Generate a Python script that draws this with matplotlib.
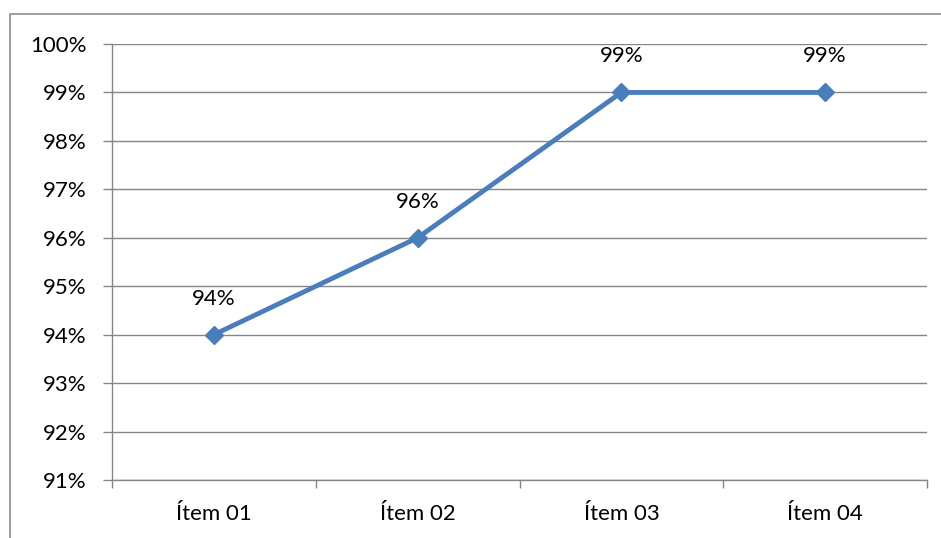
import matplotlib.pyplot as plt
from matplotlib.patches import Rectangle

plt.rcParams['font.family'] = ['Lato', 'DejaVu Sans']

items = ['Ítem 01', 'Ítem 02', 'Ítem 03', 'Ítem 04']
values = [94, 96, 99, 99]
labels = ['94%', '96%', '99%', '99%']

W, H = 941, 538
fig = plt.figure(figsize=(W / 100, H / 100), dpi=100)
ax = fig.add_axes([112 / W, 1 - 480 / H, (927 - 112) / W, (480 - 44) / H])

grey = '#868686'
line_col = '#4a7ebb'
fs = 16

ax.plot(range(len(items)), values, color=line_col, lw=3.5, marker='D', ms=9,
        mfc=line_col, mec=line_col, zorder=3, clip_on=False)
for i, (v, t) in enumerate(zip(values, labels)):
    ax.annotate(t, (i, v), xytext=(0, 26), textcoords='offset points',
                ha='center', va='center', fontsize=fs, color='black')

ax.set_xlim(-0.5, len(items) - 0.5)
ax.set_ylim(91, 100)
ax.set_yticks(range(91, 101))
ax.set_yticklabels([f'{v}%' for v in range(91, 101)])
ax.set_xticks(range(len(items)))
ax.set_xticklabels(items)
ax.set_xticks([-0.5, 0.5, 1.5, 2.5, 3.5], minor=True)
ax.tick_params(axis='x', which='major', length=0, pad=17, labelsize=fs)
ax.tick_params(axis='x', which='minor', length=6, color=grey, width=1)
ax.tick_params(axis='y', length=6.5, color=grey, width=1, pad=12, labelsize=fs)

ax.grid(axis='y', color=grey, lw=1)
ax.set_axisbelow(True)
for s in ['top', 'right']:
    ax.spines[s].set_visible(False)
for s in ['left', 'bottom']:
    ax.spines[s].set_color(grey)
    ax.spines[s].set_linewidth(1)

fig.patches.append(Rectangle((9.5 / W, -0.1), 1.2, 1 - 14.5 / H + 0.1,
                             transform=fig.transFigure, fill=False,
                             ec='#8c8c8c', lw=1.2))

fig.savefig('out.png', dpi=100)
